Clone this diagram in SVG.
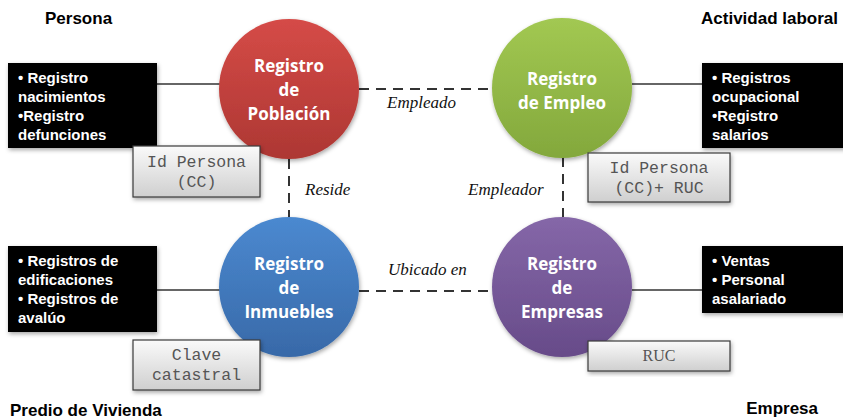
<svg xmlns="http://www.w3.org/2000/svg" width="843" height="419" viewBox="0 0 843 419">
<defs>
<linearGradient id="gRed" x1="0" y1="0" x2="0" y2="1"><stop offset="0" stop-color="#d54b47"/><stop offset="1" stop-color="#ad3733"/></linearGradient>
<linearGradient id="gGreen" x1="0" y1="0" x2="0" y2="1"><stop offset="0" stop-color="#a2c852"/><stop offset="1" stop-color="#83a83c"/></linearGradient>
<linearGradient id="gBlue" x1="0" y1="0" x2="0" y2="1"><stop offset="0" stop-color="#4b89d0"/><stop offset="1" stop-color="#3869a8"/></linearGradient>
<linearGradient id="gPurple" x1="0" y1="0" x2="0" y2="1"><stop offset="0" stop-color="#8567a8"/><stop offset="1" stop-color="#674b89"/></linearGradient>
<linearGradient id="gGray" x1="0" y1="0" x2="0" y2="1"><stop offset="0" stop-color="#fafafa"/><stop offset="1" stop-color="#cfcfcf"/></linearGradient>
<filter id="sh" x="-20%" y="-20%" width="140%" height="140%"><feDropShadow dx="1" dy="2" stdDeviation="2" flood-color="#000" flood-opacity="0.35"/></filter>
</defs>
<style>
.title{font-family:"Liberation Sans",Arial,sans-serif;font-weight:bold;font-size:17px;fill:#000}
.blk{fill:#000}
.btxt{font-family:"Liberation Sans",Arial,sans-serif;font-weight:bold;font-size:15px;fill:#fff}
.ctxt{font-family:"Open Sans","DejaVu Sans",sans-serif;font-weight:bold;font-size:17px;fill:#fff;text-anchor:middle}
.gbox{fill:url(#gGray);stroke:#3a3a3a;stroke-width:1.2}
.mono{font-family:"Liberation Mono","Courier New",monospace;font-size:16.5px;fill:#555;text-anchor:middle}
.lbl{font-family:"Liberation Serif","Times New Roman",serif;font-style:italic;font-size:17px;fill:#111}
.solid{stroke:#333;stroke-width:1.5;fill:none}
.dash{stroke:#333;stroke-width:2;fill:none;stroke-dasharray:10 7}
</style>
<g id="titles">
<text class="title" x="45" y="24">Persona</text>
<text class="title" x="838" y="24" text-anchor="end">Actividad laboral</text>
<text class="title" x="10" y="416">Predio de Vivienda</text>
<text class="title" x="818" y="414" text-anchor="end">Empresa</text>
</g>
<g id="connectors">
<line class="solid" x1="157" y1="84" x2="220" y2="84"/>
<line class="solid" x1="632" y1="84" x2="702" y2="84"/>
<line class="solid" x1="157" y1="290" x2="220" y2="290"/>
<line class="solid" x1="632" y1="290" x2="702" y2="290"/>
<line class="dash" x1="359" y1="89" x2="492" y2="89"/>
<line class="dash" x1="359" y1="291" x2="492" y2="291"/>
<line class="dash" x1="289" y1="159" x2="289" y2="217"/>
<line class="dash" x1="563" y1="157" x2="563" y2="217"/>
<text class="lbl" x="387" y="108">Empleado</text>
<text class="lbl" x="305" y="195">Reside</text>
<text class="lbl" x="468" y="195">Empleador</text>
<text class="lbl" x="388" y="275">Ubicado en</text>
</g>
<g id="box-persona">
<rect class="blk" x="8" y="63" width="149" height="85" filter="url(#sh)"/>
<text class="btxt" x="18" y="83">• Registro</text>
<text class="btxt" x="18" y="102">nacimientos</text>
<text class="btxt" x="18" y="121">•Registro</text>
<text class="btxt" x="18" y="140">defunciones</text>
</g>
<g id="box-laboral">
<rect class="blk" x="702" y="63" width="145" height="85" filter="url(#sh)"/>
<text class="btxt" x="712" y="83">• Registros</text>
<text class="btxt" x="712" y="102">ocupacional</text>
<text class="btxt" x="712" y="121">•Registro</text>
<text class="btxt" x="712" y="140">salarios</text>
</g>
<g id="box-inmuebles">
<rect class="blk" x="8" y="246" width="149" height="86" filter="url(#sh)"/>
<text class="btxt" x="18" y="266">• Registros de</text>
<text class="btxt" x="18" y="285">edificaciones</text>
<text class="btxt" x="18" y="304">• Registros de</text>
<text class="btxt" x="18" y="323">avalúo</text>
</g>
<g id="box-empresa">
<rect class="blk" x="702" y="246" width="145" height="67" filter="url(#sh)"/>
<text class="btxt" x="712" y="266">• Ventas</text>
<text class="btxt" x="712" y="285">• Personal</text>
<text class="btxt" x="712" y="304">asalariado</text>
</g>
<g id="node-poblacion">
<circle cx="289" cy="89" r="70" fill="url(#gRed)" filter="url(#sh)"/>
<text class="ctxt" x="289" y="72">Registro</text>
<text class="ctxt" x="289" y="96">de</text>
<text class="ctxt" x="289" y="120">Población</text>
</g>
<g id="node-empleo">
<circle cx="562" cy="88" r="70" fill="url(#gGreen)" filter="url(#sh)"/>
<text class="ctxt" x="562" y="85">Registro</text>
<text class="ctxt" x="562" y="109">de Empleo</text>
</g>
<g id="node-inmuebles">
<circle cx="289" cy="287" r="70" fill="url(#gBlue)" filter="url(#sh)"/>
<text class="ctxt" x="289" y="270">Registro</text>
<text class="ctxt" x="289" y="294">de</text>
<text class="ctxt" x="289" y="318">Inmuebles</text>
</g>
<g id="node-empresas">
<circle cx="562" cy="287" r="70" fill="url(#gPurple)" filter="url(#sh)"/>
<text class="ctxt" x="562" y="270">Registro</text>
<text class="ctxt" x="562" y="294">de</text>
<text class="ctxt" x="562" y="318">Empresas</text>
</g>
<g id="key-persona">
<rect class="gbox" x="133" y="146" width="127" height="51" filter="url(#sh)"/>
<text class="mono" x="196.5" y="167">Id Persona</text>
<text class="mono" x="196.5" y="187">(CC)</text>
</g>
<g id="key-empleo">
<rect class="gbox" x="588" y="153" width="142" height="49" filter="url(#sh)"/>
<text class="mono" x="659" y="173">Id Persona</text>
<text class="mono" x="659" y="193">(CC)+ RUC</text>
</g>
<g id="key-inmuebles">
<rect class="gbox" x="133" y="340" width="127" height="50" filter="url(#sh)"/>
<text class="mono" x="196.5" y="360">Clave</text>
<text class="mono" x="196.5" y="380">catastral</text>
</g>
<g id="key-empresa">
<rect class="gbox" x="588" y="341" width="142" height="30" filter="url(#sh)"/>
<text x="659" y="361" text-anchor="middle" style="font-family:'Liberation Serif','Times New Roman',serif;font-size:16px;fill:#555">RUC</text>
</g>
</svg>
